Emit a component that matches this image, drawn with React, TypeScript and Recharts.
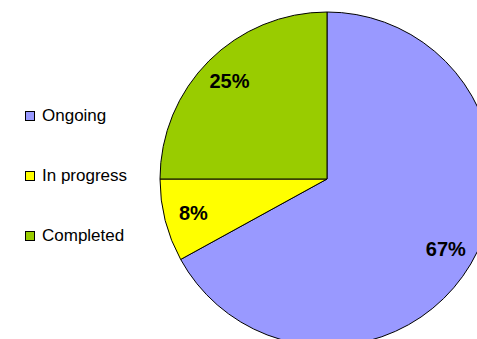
import { PieChart, Pie, Cell, Legend } from "recharts";

const categories = ["Ongoing", "In progress", "Completed"];
const values = [67, 8, 25];
const colors = ["#9999FF", "#FFFF00", "#99CC00"];

const data = categories.map((name, i) => ({ name, value: values[i] }));

const RADIAN = Math.PI / 180;

const renderLabel = (props: any) => {
  const { cx, cy, midAngle, percent } = props;
  const r = 138;
  const x = cx + r * Math.cos(-midAngle * RADIAN);
  const y = cy + r * Math.sin(-midAngle * RADIAN);
  return (
    <text
      x={x}
      y={y}
      fill="#000"
      textAnchor="middle"
      dominantBaseline="central"
      style={{ fontFamily: "Liberation Sans, Arial, sans-serif", fontWeight: "bold", fontSize: 20 }}
    >
      {`${Math.round(percent * 100)}%`}
    </text>
  );
};

const LegendBox = () => (
  <div style={{ fontFamily: "Liberation Sans, Arial, sans-serif", fontSize: 17, color: "#000" }}>
    {categories.map((name, i) => (
      <div key={name} style={{ display: "flex", alignItems: "center", height: 20, marginBottom: i < categories.length - 1 ? 40 : 0 }}>
        <span
          style={{
            display: "inline-block",
            width: 8,
            height: 8,
            background: colors[i],
            border: "1px solid #000",
            marginRight: 7,
          }}
        />
        <span>{name}</span>
      </div>
    ))}
  </div>
);

export default function App() {
  return (
    <div style={{ position: "absolute", left: 0, top: 0, width: 477, height: 339, background: "#fff" }}>
      <PieChart width={477} height={339} margin={{ top: 0, right: 0, bottom: 0, left: 0 }}>
        <Pie
          data={data}
          dataKey="value"
          nameKey="name"
          cx={327}
          cy={179}
          outerRadius={167}
          startAngle={90}
          endAngle={-270}
          stroke="#000"
          strokeWidth={1}
          label={renderLabel}
          labelLine={false}
          isAnimationActive={false}
        >
          {data.map((d, i) => (
            <Cell key={d.name} fill={colors[i]} />
          ))}
        </Pie>
        <Legend
          layout="vertical"
          content={<LegendBox />}
          wrapperStyle={{ left: 25, top: 106, width: 130 }}
        />
      </PieChart>
    </div>
  );
}
